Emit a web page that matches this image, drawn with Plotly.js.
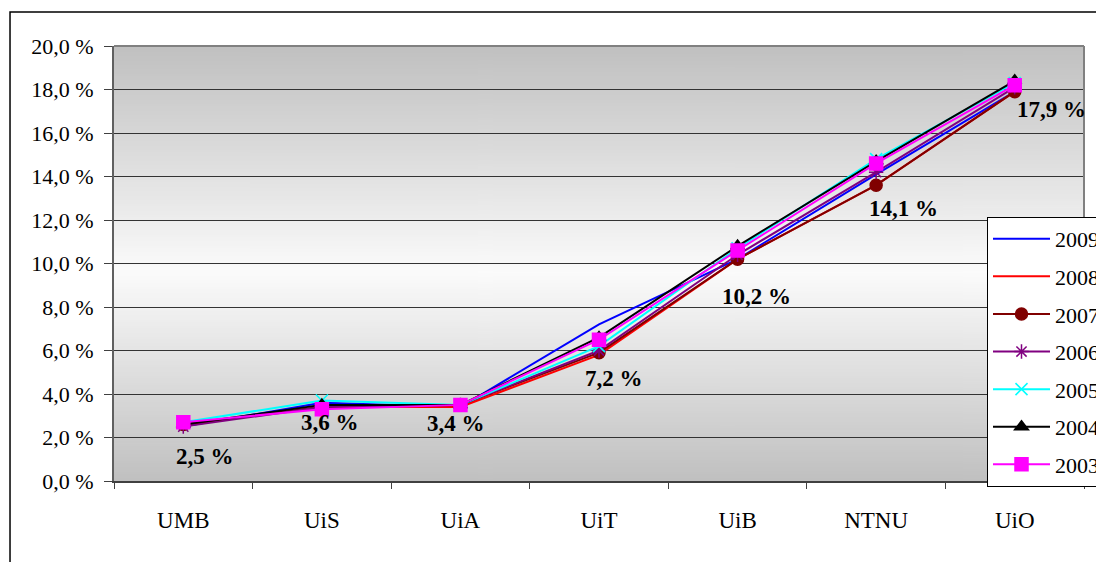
<!DOCTYPE html>
<html>
<head>
<meta charset="utf-8">
<script src="https://cdn.plot.ly/plotly-3.0.1.min.js"></script>
<style>html,body{margin:0;padding:0;background:#fff;}#chart{width:1096px;height:562px;}</style>
</head>
<body>
<div id="chart"></div>
<script>
// ---- data ----
var categories = ["UMB", "UiS", "UiA", "UiT", "UiB", "NTNU", "UiO"];
var years = ["2009", "2008", "2007", "2006", "2005", "2004", "2003"];
var v2009 = [2.5, 3.6, 3.4, 7.2, 10.2, 14.1, 17.9];
var v2008 = [2.6, 3.4, 3.4, 5.8, 10.2, 13.6, 17.9];
var v2007 = [2.6, 3.4, 3.5, 5.9, 10.2, 13.6, 17.9];
var v2006 = [2.5, 3.4, 3.5, 6.0, 10.4, 14.2, 18.1];
var v2005 = [2.7, 3.7, 3.5, 6.2, 10.7, 14.8, 18.3];
var v2004 = [2.6, 3.5, 3.5, 6.6, 10.8, 14.7, 18.4];
var v2003 = [2.7, 3.3, 3.5, 6.5, 10.6, 14.6, 18.2];
var labelText = ["2,5 %", "3,6 %", "3,4 %", "7,2 %", "10,2 %", "14,1 %", "17,9 %"];

// ---- styles ----
var seriesValues = [v2009, v2008, v2007, v2006, v2005, v2004, v2003];
var colors = ["#0000FF", "#FF0000", "#800000", "#800080", "#00FFFF", "#000000", "#FF00FF"];
var symbols = [null, null, "circle", "asterisk-open", "x-thin-open", "triangle-up", "square"];
var sizes = [0, 0, 12, 12, 12, 12, 13];
var labelShiftX = [22, 8, -4, 15, 19, 27, 37];
var labelShiftY = [-30, -20, -16, -54, -37, -34, -18];

var serif = "'Liberation Serif', 'Times New Roman', serif";

var traces = years.map(function (yr, i) {
  var t = {
    type: "scatter",
    x: categories,
    y: seriesValues[i],
    name: yr,
    legendgroup: yr,
    mode: symbols[i] ? "lines+markers" : "lines",
    line: { color: colors[i], width: 2 },
    cliponaxis: false
  };
  if (symbols[i]) {
    t.marker = { symbol: symbols[i], size: sizes[i], color: colors[i],
                 line: { color: colors[i], width: 1.5 } };
  }
  return t;
});

// gradient background image
var cv = document.createElement("canvas");
cv.width = 4; cv.height = 400;
var ctx = cv.getContext("2d");
var g = ctx.createLinearGradient(0, 0, 0, 400);
g.addColorStop(0, "#c0c0c0");
g.addColorStop(0.52, "#fbfbfb");
g.addColorStop(1, "#c0c0c0");
ctx.fillStyle = g; ctx.fillRect(0, 0, 4, 400);
var bgUrl = cv.toDataURL("image/png");

var annotations = categories.map(function (c, i) {
  return {
    x: c, y: v2009[i], xref: "x", yref: "y",
    text: "<b>" + labelText[i] + "</b>", showarrow: false,
    xshift: labelShiftX[i], yshift: labelShiftY[i],
    font: { family: serif, size: 23, color: "#000" }
  };
});

var layout = {
  width: 1096, height: 562,
  margin: { l: 114, r: 12, t: 46, b: 81, autoexpand: false },
  paper_bgcolor: "#ffffff",
  plot_bgcolor: "rgba(0,0,0,0)",
  separators: ", ",
  showlegend: true,
  font: { family: serif, size: 20, color: "#000" },
  xaxis: {
    type: "category",
    range: [-0.5, 6.5],
    showgrid: false,
    zeroline: false,
    showline: true, linecolor: "#404040", linewidth: 2,
    ticks: "outside", ticklen: 6, tickcolor: "#404040", tickwidth: 1,
    tickson: "boundaries",
    ticklabelstandoff: 17,
    tickfont: { family: serif, size: 23, color: "#000" },
    mirror: false
  },
  yaxis: {
    range: [0, 20],
    dtick: 2,
    tickformat: ".1f",
    ticksuffix: " %",
    showgrid: true, gridcolor: "#333333", gridwidth: 1,
    zeroline: false,
    showline: true, linecolor: "#606060", linewidth: 2,
    ticks: "outside", ticklen: 8, tickcolor: "#404040", tickwidth: 1,
    ticklabelstandoff: 6,
    tickfont: { family: serif, size: 22, color: "#000" }
  },
  legend: {
    x: 0.9, y: 0.607, xanchor: "left", yanchor: "top",
    bgcolor: "#ffffff", bordercolor: "#000000", borderwidth: 1,
    font: { family: serif, size: 22, color: "#000" },
    tracegroupgap: 6,
    itemwidth: 57
  },
  images: [{
    source: bgUrl, xref: "paper", yref: "paper",
    x: 0, y: 1, sizex: 1, sizey: 1, sizing: "stretch",
    xanchor: "left", yanchor: "top", layer: "below"
  }],
  shapes: [
    { type: "line", xref: "paper", yref: "paper", x0: 0, x1: 1, y0: 1, y1: 1,
      line: { color: "#808080", width: 2 } },
    { type: "line", xref: "paper", yref: "paper", x0: 1, x1: 1, y0: 0, y1: 1,
      line: { color: "#808080", width: 2 } },
    { type: "rect", xref: "paper", yref: "paper",
      x0: -0.1072, x1: 1.03, y0: -0.21, y1: 1.078,
      line: { color: "#000000", width: 1.5 }, fillcolor: "rgba(0,0,0,0)", layer: "below" }
  ],
  annotations: annotations
};

Plotly.newPlot("chart", traces, layout, { displayModeBar: false, staticPlot: true });
</script>
</body>
</html>
